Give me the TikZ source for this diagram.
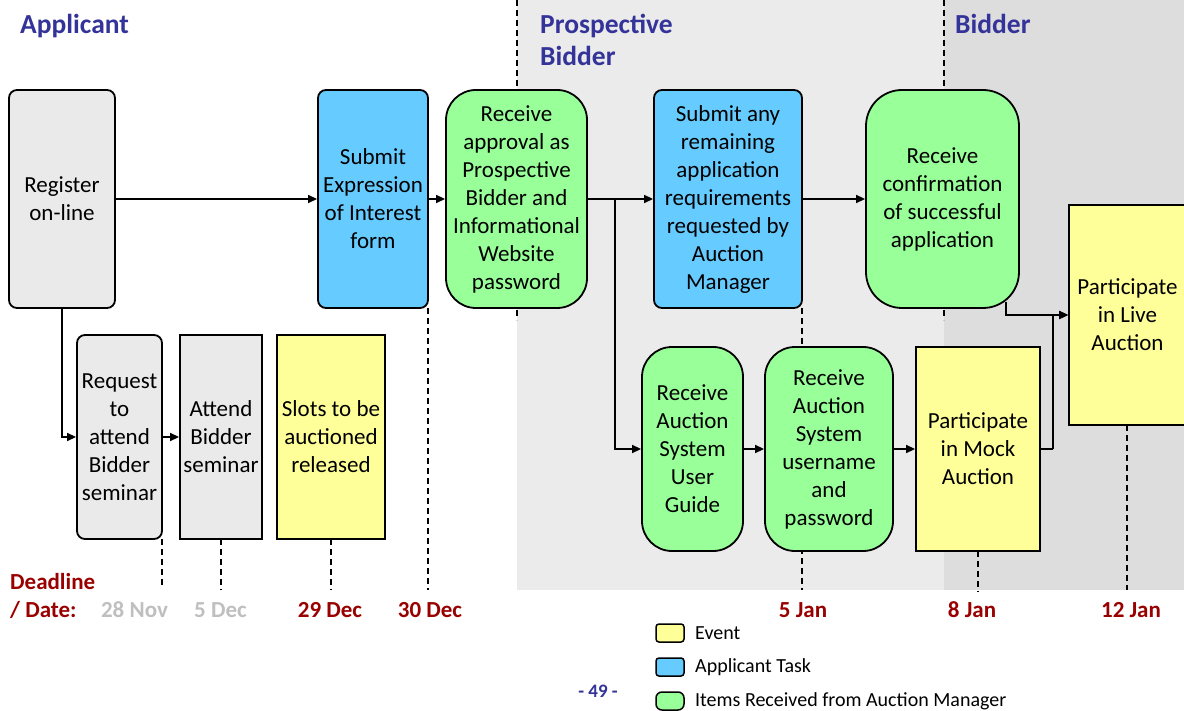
\documentclass[tikz,border=0pt]{standalone}
\usepackage{fontspec}
\setmainfont{Carlito}
\usetikzlibrary{arrows.meta}
\definecolor{grayf}{HTML}{EAEAEA}
\definecolor{regionA}{HTML}{EBEBEB}
\definecolor{regionB}{HTML}{DDDDDD}
\definecolor{bluef}{HTML}{66CCFF}
\definecolor{greenf}{HTML}{99FF99}
\definecolor{yellowf}{HTML}{FFFF99}
\definecolor{titleblue}{HTML}{333399}
\definecolor{datered}{HTML}{990000}
\definecolor{dategray}{HTML}{BFBFBF}
\begin{document}
\begin{tikzpicture}[x=1pt,y=-1pt,
  box/.style={draw=black, line width=1.8pt, align=center, inner sep=0pt, font=\fontsize{23}{28}\selectfont},
  task/.style={box, fill=bluef, rounded corners=8pt},
  recv/.style={box, fill=greenf, rounded corners=30pt},
  eventbox/.style={box, fill=yellowf},
  plainbox/.style={box, fill=grayf},
  arr/.style={line width=1.4pt, -{Triangle[length=9pt,width=8pt]}},
  datedash/.style={line width=1.3pt, dash pattern=on 6pt off 4pt},
  titletext/.style={font=\fontsize{27.5}{31}\bfseries, text=titleblue, inner sep=0pt, anchor=base west},
  datetext/.style={font=\fontsize{23}{27}\bfseries, text=datered, inner sep=0pt, anchor=base},
  legbox/.style={draw=black, line width=1.5pt, minimum width=28pt, minimum height=18pt, inner sep=0pt, rounded corners=3pt},
  legtext/.style={font=\fontsize{20}{24}\selectfont, inner sep=0pt, anchor=west}
]
\useasboundingbox (0,0) rectangle (1184,711);
\clip (0,0) rectangle (1184,711);

% regions
\fill[regionA] (517,0) rectangle (944,590);
\fill[regionB] (944,0) rectangle (1184,590);

% dashed time markers
\draw[datedash] (517,0) -- (517,320);
\draw[datedash] (944,0) -- (944,320);
\draw[datedash] (162,539) -- (162,588);
\draw[datedash] (221,539) -- (221,590);
\draw[datedash] (331,539) -- (331,590);
\draw[datedash] (428,308) -- (428,590);
\draw[datedash] (802,308) -- (802,590);
\draw[datedash] (978,551) -- (978,592);
\draw[datedash] (1127,425) -- (1127,590);

% titles
\node[titletext] (tapp) at (20,34) {Applicant};
\node[titletext] (tpro1) at (540,34) {Prospective};
\node[titletext] (tpro2) at (540,66) {Bidder};
\node[titletext] (tbid) at (955,34) {Bidder};

% boxes
\node[plainbox, rounded corners=8pt, minimum width=106pt, minimum height=218pt] (reg) at (62,199) {Register\\on-line};
\node[task, minimum width=110pt, minimum height=218pt] (eoi) at (373,199) {Submit\\Expression\\of Interest\\form};
\node[recv, minimum width=141pt, minimum height=218pt] (appr) at (516.5,199) {Receive\\approval as\\Prospective\\Bidder and\\Informational\\Website\\password};
\node[task, minimum width=148pt, minimum height=218pt] (rem) at (728,199) {Submit any\\remaining\\application\\requirements\\requested by\\Auction\\Manager};
\node[recv, rounded corners=36pt, minimum width=153pt, minimum height=218pt] (conf) at (942.5,199) {Receive\\confirmation\\of successful\\application};
\node[eventbox, minimum width=117pt, minimum height=220pt] (live) at (1127.5,315) {Participate\\in Live\\Auction};

\node[plainbox, rounded corners=8pt, minimum width=85pt, minimum height=204pt] (req) at (119.5,437) {Request\\to\\attend\\Bidder\\seminar};
\node[plainbox, minimum width=82pt, minimum height=204pt] (att) at (221,437) {Attend\\Bidder\\seminar};
\node[eventbox, minimum width=108pt, minimum height=204pt] (slots) at (331,437) {Slots to be\\auctioned\\released};

\node[recv, minimum width=101pt, minimum height=204pt] (guide) at (692.5,449) {Receive\\Auction\\System\\User\\Guide};
\node[recv, minimum width=128pt, minimum height=204pt] (user) at (829,449) {Receive\\Auction\\System\\username\\and\\password};
\node[eventbox, minimum width=124pt, minimum height=204pt] (mock) at (978,449) {Participate\\in Mock\\Auction};

% connectors
\coordinate (br) at (615,199);
\coordinate (mj) at (1053,449);
\draw[arr] (reg.east) -- (eoi.west);
\draw[arr] (eoi.east) -- (appr.west);
\draw[arr] (appr.east) -- (rem.west);
\draw[arr] (br) |- (guide.west);
\draw[arr] (rem.east) -- (conf.west);
\draw[arr] (reg.south) |- (req.west);
\draw[arr] (req.east) -- (att.west);
\draw[arr] (guide.east) -- (user.west);
\draw[arr] (user.east) -- (mock.west);
\draw[line width=1.4pt] (mock.east) -- (mj);
\draw[arr] (mj) |- (live.west);
\draw[arr] ([xshift=-14pt,yshift=7pt]conf.south east) |- (live.west);

% dates
\node[datetext, anchor=base west] (dl1) at (10,589) {Deadline};
\node[datetext, anchor=base west] (dl2) at (10,617) {/ Date:};
\node[datetext, text=dategray] (d1) at (134.5,617) {28 Nov};
\node[datetext, text=dategray] (d2) at (220.5,617) {5 Dec};
\node[datetext] (d3) at (330,617) {29 Dec};
\node[datetext] (d4) at (430,617) {30 Dec};
\node[datetext] (d5) at (803,617) {5 Jan};
\node[datetext] (d6) at (972,617) {8 Jan};
\node[datetext] (d7) at (1131,617) {12 Jan};

% legend
\node[legbox, fill=yellowf] (lev) at (670,633) {};
\node[legbox, fill=bluef] (lap) at (670,667) {};
\node[legbox, fill=greenf, rounded corners=6pt] (lit) at (670,701) {};
\node[legtext] (tev) at (695,633) {Event};
\node[legtext] (tap) at (695,667) {Applicant Task};
\node[legtext] (tit) at (695,701) {Items Received from Auction Manager};

% page number
\node[font=\fontsize{19}{22}\bfseries, text=titleblue, inner sep=0pt, anchor=base] (pg) at (598,697) {- 49 -};
\end{tikzpicture}
\end{document}
